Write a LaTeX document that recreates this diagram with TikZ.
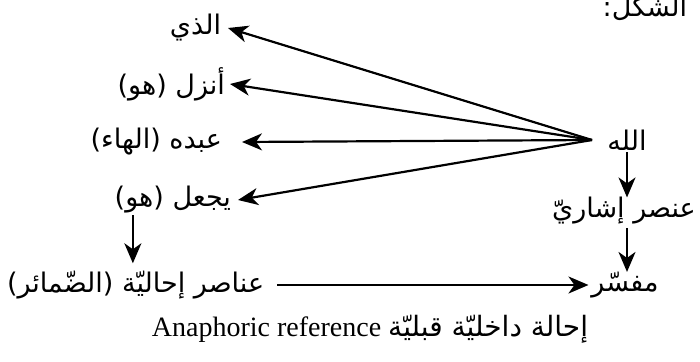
\documentclass[tikz,border=0pt]{standalone}
\usepackage{fontspec}
\setmainfont{Liberation Serif}
\newfontfamily\arabicfont[Script=Arabic]{DejaVu Sans}
\TeXXeTstate=1
\usetikzlibrary{arrows.meta,calc}
\tikzset{
  ar/.style={font=\arabicfont\fontsize{27}{30}\selectfont, inner ysep=0pt, inner xsep=3pt, outer sep=0pt},
  arr/.style={line width=2.2pt, -{Stealth[length=20pt,width=17pt,inset=6pt]}},
}
\begin{document}
\begin{tikzpicture}[x=1pt,y=-1pt]
\useasboundingbox (0,0) rectangle (700,361);
% title
\node[ar, anchor=east] (title) at (690,8) {\beginR الشكل:\endR};
% left column
\node[ar, anchor=east, inner xsep=7pt] (n1) at (228,28) {\beginR الذي\endR};
\node[ar, anchor=east, inner xsep=5pt] (n2) at (230,84) {\beginR أنزل (هو)\endR};
\node[ar, anchor=east, inner xsep=20pt] (n3) at (242,142) {\beginR عبده (الهاء)\endR};
\node[ar, anchor=east, inner xsep=7pt] (n4) at (238,200) {\beginR يجعل (هو)\endR};
% right column
\node[ar] (allah) at (627,140) {\beginR الله\endR};
\node[ar] (ishari) at (624,211) {\beginR عنصر إشاريّ\endR};
\node[ar] (mufassir) at (625,285) {\beginR مفسّر\endR};
\node[ar, anchor=west] (damair) at (4,285) {\beginR عناصر إحاليّة (الضّمائر)\endR};
% caption
\node[font=\fontsize{28}{32}\selectfont, inner sep=0pt] (caption) at (370,329)
  {\beginR{\arabicfont إحالة داخليّة قبليّة} \beginL Anaphoric reference\endL\endR};
% hub
\coordinate (hub) at (592,140);
\draw[arr] (hub) -- (n1.east);
\draw[arr] (hub) -- (n2.east);
\draw[arr] (hub) -- (n3.east);
\draw[arr] (hub) -- (n4.east);
\coordinate (c1) at ($(allah.center)+(0,12)$);
\coordinate (c2) at ($(ishari.center)+(3,17)$);
\draw[arr] (c1) -- (c1 |- ishari.north);
\draw[arr] (c2) -- (c2 |- mufassir.north);
\draw[arr] ([xshift=10pt]damair.east) -- (mufassir.west);
\coordinate (dtop) at ($(n4.center)+(-40,15)$);
\draw[arr] (dtop) -- ($(dtop |- damair.north)+(0,-8)$);
\end{tikzpicture}
\end{document}
